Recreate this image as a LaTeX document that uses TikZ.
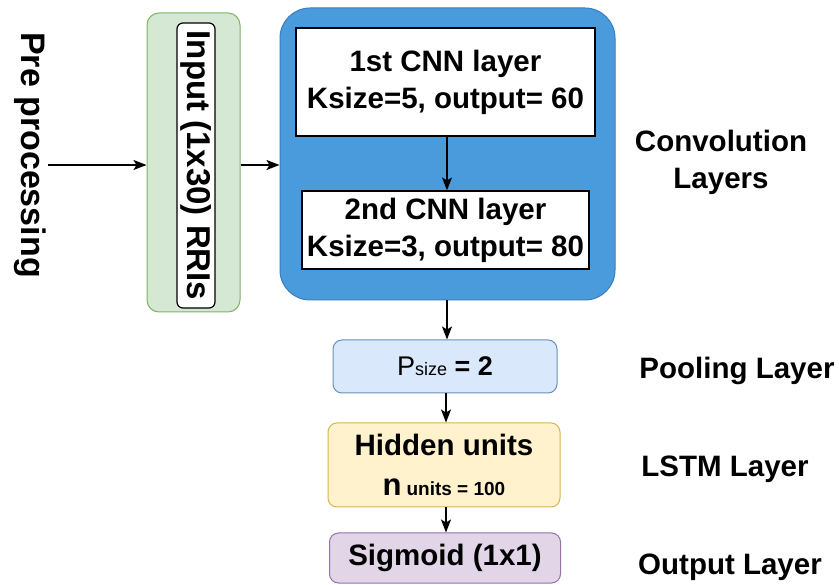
\documentclass[tikz,border=0pt]{standalone}
\usepackage{fontspec}
\setmainfont{Liberation Sans}
\usetikzlibrary{arrows.meta}
\definecolor{bluefill}{HTML}{4A9BDB}
\definecolor{bluedraw}{HTML}{3A7DBF}
\definecolor{greenfill}{HTML}{D5E8D4}
\definecolor{greendraw}{HTML}{82B366}
\definecolor{poolfill}{HTML}{DAE8FC}
\definecolor{pooldraw}{HTML}{6C8EBF}
\definecolor{lstmfill}{HTML}{FFF2CC}
\definecolor{lstmdraw}{HTML}{D6B656}
\definecolor{outfill}{HTML}{E1D5E7}
\definecolor{outdraw}{HTML}{9673A6}
\begin{document}
\begin{tikzpicture}[x=1pt,y=-1pt,
  big/.style={font=\fontsize{29.5}{37}\selectfont\bfseries},
  wbox/.style={draw=black, fill=white, line width=1.2pt, inner sep=0pt, align=center, big},
  rbox/.style={draw, rounded corners=9pt, line width=1pt, inner sep=0pt, align=center},
  lbl/.style={big, align=center, inner sep=0pt},
  arr/.style={-{Stealth[length=13pt,width=10pt,inset=3pt]}, line width=1.3pt}]
\useasboundingbox (0,0) rectangle (839,585);
\fill[white] (0,0) rectangle (839,585);

% left text
\node[lbl, font=\fontsize{34}{38}\selectfont\bfseries, rotate=-90] (pre) at (30,155) {Pre processing};

% input
\node[rbox, rounded corners=12pt, fill=greenfill, draw=greendraw, minimum width=93pt, minimum height=299pt] (green) at (193.5,162.5) {};
\node[wbox, rounded corners=6pt, rotate=-90, font=\fontsize{33}{38}\selectfont\bfseries, minimum width=285pt, minimum height=38pt] (inp) at (196,165.5) {Input (1x30) RRIs};

% conv block
\node[draw=bluedraw, fill=bluefill, rounded corners=30pt, line width=1pt, minimum width=335pt, minimum height=292pt] (blue) at (447.5,154) {};
\node[wbox, minimum width=299pt, minimum height=108pt] (c1) at (445.5,82) {1st CNN layer\\Ksize=5, output= 60};
\node[wbox, minimum width=287pt, minimum height=78pt] (c2) at (445.5,230) {2nd CNN layer\\Ksize=3, output= 80};

% lower boxes
\node[rbox, fill=poolfill, draw=pooldraw, minimum width=224pt, minimum height=53pt] (pool) at (445,366.5)
  {\fontsize{27}{30}\selectfont P\fontsize{18}{20}\selectfont size\fontsize{27}{30}\selectfont\ \textbf{= 2}};
\node[rbox, fill=lstmfill, draw=lstmdraw, minimum width=232pt, minimum height=84pt, font=\fontsize{29.5}{40}\selectfont\bfseries] (lstm) at (444,465)
  {Hidden units\\{\fontsize{31}{31}\selectfont n}\,{\fontsize{19}{20}\selectfont units = 100}};
\node[rbox, fill=outfill, draw=outdraw, minimum width=231pt, minimum height=50pt, big] (out) at (445,558) {Sigmoid (1x1)};

% right labels
\node[lbl] (lconv) at (721,162) {Convolution\\Layers};
\node[lbl, anchor=base] (lpool) at (737,379) {Pooling Layer};
\node[lbl, anchor=base] (llstm) at (725,477) {LSTM Layer};
\node[lbl, anchor=base] (lout) at (730,574) {Output Layer};

% connectors
\coordinate (start) at (48,165);
\draw[arr] (start) -- (green.west |- start);
\draw[arr] (green.east |- start) -- (blue.west |- start);
\draw[arr] (c1.south -| 447,0) -- (c2.north -| 447,0);
\draw[arr] (blue.south -| 447,0) -- (pool.north -| 447,0);
\draw[arr] (pool.south -| 446,0) -- (lstm.north -| 446,0);
\draw[arr] (lstm.south -| 446,0) -- (out.north -| 446,0);
\end{tikzpicture}
\end{document}
